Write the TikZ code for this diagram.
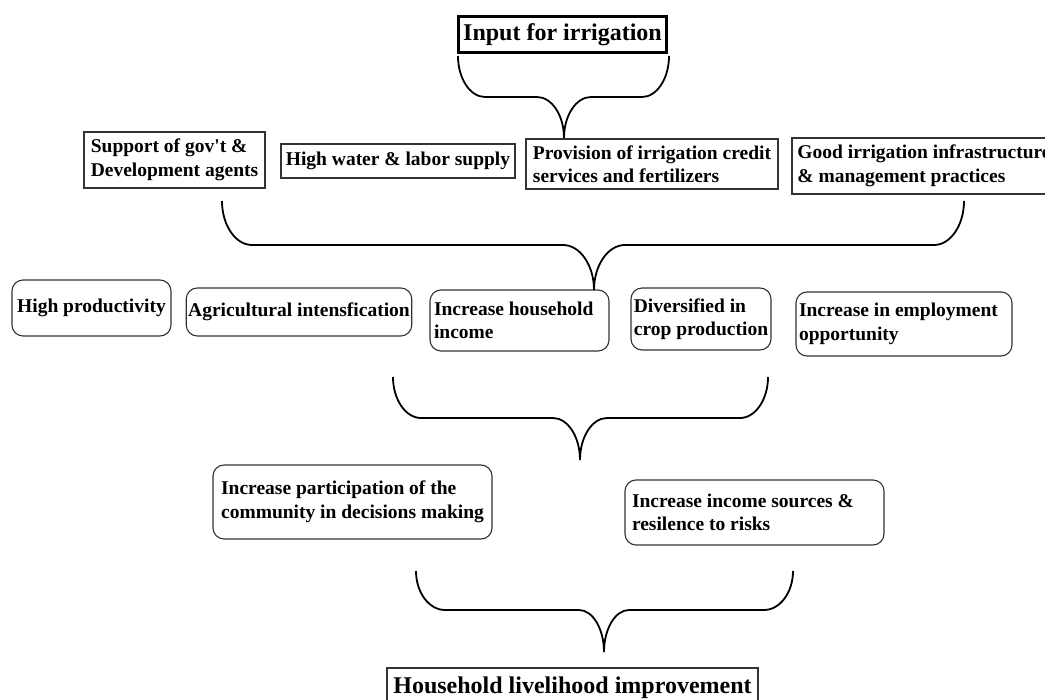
\documentclass[tikz,border=0pt]{standalone}
\usepackage{fontspec}
\setmainfont{Liberation Serif}
\tikzset{
  box/.style={draw=black!80, line width=1.1pt, font=\fontsize{19.5}{23.5}\selectfont\bfseries, align=left, inner sep=2pt},
  rbox/.style={box, rounded corners=11pt},
  lbox/.style={rbox, align=flush left},
  bigbox/.style={draw=black, line width=3pt, font=\fontsize{24}{28}\selectfont\bfseries, inner sep=2pt},
  outbox/.style={draw=black!80, line width=1.1pt, font=\fontsize{24}{28}\selectfont\bfseries, inner sep=2pt},
  bracestyle/.style={line width=1.8pt, black},
}
\newcommand\mybrace[8]{% x0 x1 xc ytop yh ytip r d
  \pgfmathsetmacro\bh{#5-#4}%
  \pgfmathsetmacro\bt{#6-#5}%
  \draw[bracestyle] (#1,-#4) .. controls (#1,{-(#4+0.55*\bh)}) and ({#1+0.45*#7},-#5) .. ({#1+#7},-#5)
    -- ({#3-#8},-#5) .. controls ({#3-0.45*#8},-#5) and (#3,{-(#6-0.55*\bt)}) .. (#3,-#6)
    .. controls (#3,{-(#6-0.55*\bt)}) and ({#3+0.45*#8},-#5) .. ({#3+#8},-#5)
    -- ({#2-#7},-#5) .. controls ({#2-0.45*#7},-#5) and (#2,{-(#4+0.55*\bh)}) .. (#2,-#4);
}
\begin{document}
\begin{tikzpicture}[x=1pt,y=1pt]
\useasboundingbox (0,0) rectangle (1045,-700);
\clip (0,0) rectangle (1045,-700);
\fill[white] (0,0) rectangle (1045,-700);

% top
\node[bigbox, minimum width=208, minimum height=36] (in) at (562.5,-34.5) {Input for irrigation};

% row 1
\node[box, minimum width=181, minimum height=56] (sup) at (174.5,-160) {Support of gov\textquotesingle t \&\\Development agents};
\node[box, minimum width=234, minimum height=34] (hw) at (398,-161) {High water \& labor supply};
\node[box, minimum width=252, minimum height=50] (prov) at (652,-164) {Provision of irrigation credit\\services and fertilizers};
\node[box, minimum width=264, minimum height=56] (good) at (924,-166) {Good irrigation infrastructure\\\& management practices};

% row 2
\node[rbox, minimum width=159, minimum height=56] (hp) at (91.5,-308) {High productivity};
\node[rbox, minimum width=224, minimum height=48] (ag) at (299,-312) {Agricultural intensfication};
\node[lbox, inner xsep=4pt, text width=171, minimum height=61] (hh) at (519.5,-320.5) {Increase household\\income};
\node[rbox, minimum width=140, minimum height=62] (div) at (701,-319) {Diversified in\\crop production};
\node[lbox, inner xsep=3pt, text width=210, minimum height=64] (emp) at (904,-324) {Increase in employment\\opportunity};

% row 3
\node[rbox, minimum width=279, minimum height=74] (part) at (352.5,-502) {Increase participation of the\\community in decisions making};
\node[lbox, inner xsep=7pt, text width=245, minimum height=65] (inc) at (754.5,-512.5) {Increase income sources \&\\resilence to risks};

% bottom
\node[outbox, minimum width=371, minimum height=40] (out) at (572.5,-688) {Household livelihood improvement};

% braces
\mybrace{458}{669}{564}{56}{97}{138}{27}{27}
\mybrace{222}{964}{594}{201}{245}{290}{30}{31}
\mybrace{393}{768}{580}{377}{418}{460}{28}{27}
\mybrace{416}{793}{604}{571}{610}{652}{29}{25}
\end{tikzpicture}
\end{document}
